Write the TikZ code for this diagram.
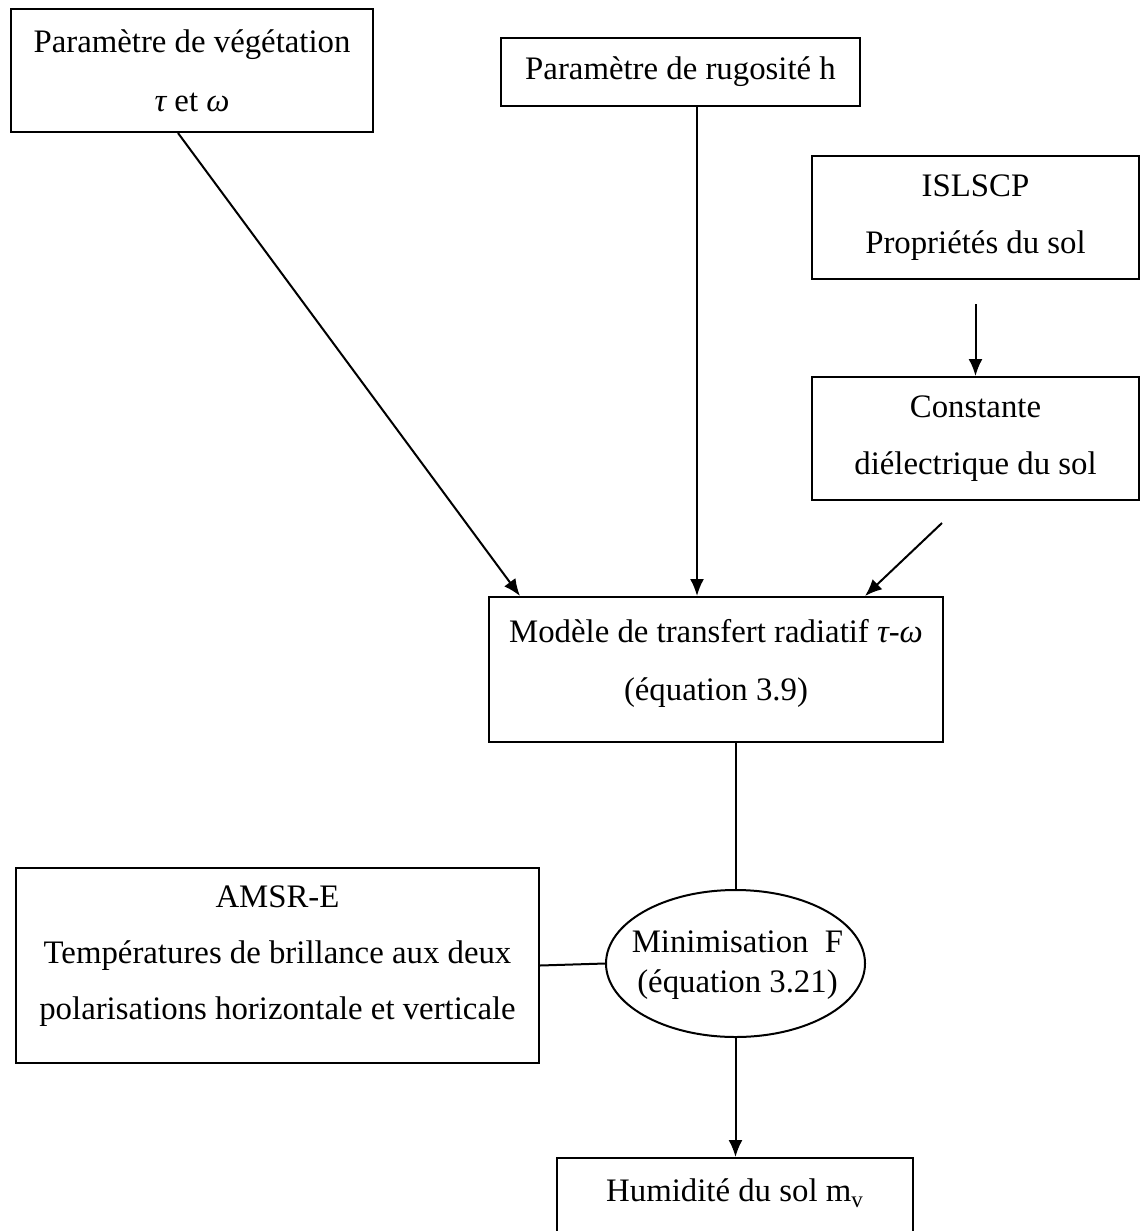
\documentclass[tikz,border=0pt]{standalone}
\usepackage{fontspec}
\setmainfont{Liberation Serif}
\usetikzlibrary{shapes.geometric,arrows.meta,calc}
\newcommand\mylines[2]{\raisebox{#1}[0pt][0pt]{\begin{tabular}{@{}c@{}}#2\end{tabular}}}
\begin{document}
\begin{tikzpicture}[x=0.5pt,y=-0.5pt,
  box/.style={draw,line width=1pt,rectangle,anchor=north west,inner sep=0pt,align=center,
    font=\fontsize{16.4}{28.5}\selectfont},
  arr/.style={line width=1pt,-{Latex[length=8.5pt,width=7pt]}},
  ln/.style={line width=1pt}]
\useasboundingbox (0,0) rectangle (1140,1231);
\node[box,minimum width=181pt,minimum height=61.5pt] (b1) at (10,8)
  {\raisebox{1pt}{Paramètre de végétation}\\\itshape τ\upshape{} et \itshape ω};
\node[box,minimum width=179.5pt,minimum height=34pt] (b2) at (500,37)
  {Paramètre de rugosité h};
\node[box,minimum width=163.5pt,minimum height=61.5pt] (b3) at (811,155)
  {ISLSCP\\Propriétés du sol};
\node[box,minimum width=163.5pt,minimum height=61.5pt] (b4) at (811,376)
  {Constante\\diélectrique du sol};
\node[box,minimum width=227pt,minimum height=72.5pt,font=\fontsize{16.4}{29}\selectfont] (b5) at (488,596)
  {\mylines{0.7pt}{Modèle de transfert radiatif \itshape τ\upshape -\itshape ω\\(équation 3.9)}};
\node[box,minimum width=261.5pt,minimum height=97.5pt,font=\fontsize{16.4}{28}\selectfont] (b6) at (15,867)
  {\mylines{2.25pt}{AMSR-E\\Températures de brillance aux deux\\polarisations horizontale et verticale}};
\node[draw,line width=1pt,ellipse,inner sep=0pt,minimum width=129.5pt,minimum height=73.5pt] (e) at (735.5,963.5) {};
\node[align=center,inner sep=0pt,font=\fontsize{16.4}{20}\selectfont] (et) at ($(e.center)+(2,2)$)
  {Minimisation\ \ F\\(équation 3.21)};
\node[box,minimum width=178pt,minimum height=45pt] (b7) at (556,1157)
  {\raisebox{12.5pt}{Humidité du sol m\textsubscript{v}}};
\coordinate (c4) at (942,523);
\draw[arr] ($(b1.south west)+(168,0)$) -- ($(b5.north west)+(32,0)$);
\draw[arr] ($(b2.south west)+(197,0)$) -- ($(b5.north west)+(209,0)$);
\draw[arr] ($(b3.south)+(0,24)$) -- (b4.north);
\draw[arr] (c4) -- ($(b5.north west)+(377,0)$);
\draw[ln] (b5.south -| e.north) -- (e.north);
\draw[ln] (b6.east) -- (e.west);
\draw[arr] (e.south) -- (b7.north -| e.south);
\end{tikzpicture}
\end{document}
